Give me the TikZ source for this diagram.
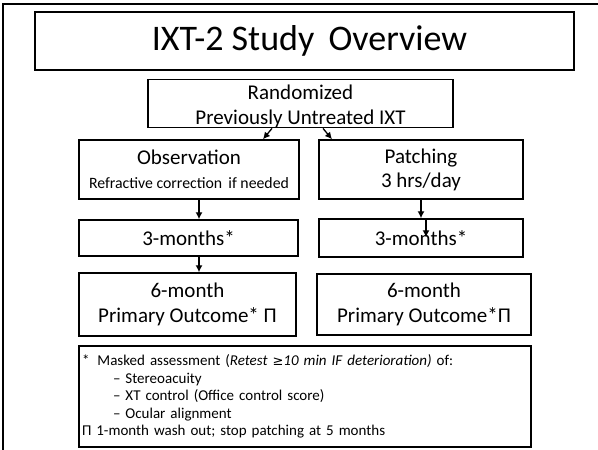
\documentclass[tikz,border=0pt]{standalone}
\usepackage{fontspec}
\setmainfont{Carlito}
\newfontfamily\symfont{DejaVu Sans}
\usetikzlibrary{arrows,arrows.meta,positioning}

\tikzset{
  box/.style={draw,line width=1.4pt,inner sep=0pt,align=center},
  arr/.style={-{Latex[length=7pt,width=7pt]},line width=1.3pt}
}

\begin{document}
\begin{tikzpicture}[x=1pt,y=-1pt]
\useasboundingbox (0,0) rectangle (598,450);
\draw[line width=1.6pt] (3,450) -- (3,4) -- (598,4);

\node[box,line width=2.2pt,minimum width=539pt,minimum height=58pt,font=\fontsize{36}{40}\selectfont] (title) at (304.5,41) {\hspace*{10pt}IXT-2 Study\, Overview};
\node[box,minimum width=305pt,minimum height=47pt,font=\fontsize{21}{25}\selectfont] (rand) at (300.5,103.5) {\rule{0pt}{20pt}Randomized\\Previously Untreated IXT};

\node[box,minimum width=220pt,minimum height=59pt,font=\fontsize{16}{24}\selectfont] (obs) at (189,169.5) {{\fontsize{21}{24}\selectfont Observation}\\{\fontsize{15.8}{24}\selectfont Refractive correction\, if needed}};
\node[box,minimum width=204pt,minimum height=59pt,font=\fontsize{21}{24}\selectfont] (pat) at (421,169.5) {Patching\\3 hrs/day};

\node[box,minimum width=219pt,minimum height=36pt,font=\fontsize{21}{24}\selectfont] (mtl) at (188.5,238) {3-months*};
\node[box,minimum width=204pt,minimum height=38pt,font=\fontsize{21}{24}\selectfont] (mtr) at (421,238) {3-months*};

\node[box,minimum width=217pt,minimum height=63pt,font=\fontsize{21}{25}\selectfont] (msl) at (187.5,304.5) {6-month\\Primary Outcome* Π};
\node[box,minimum width=214pt,minimum height=61pt,font=\fontsize{21}{25}\selectfont] (msr) at (424,304.5) {6-month\\Primary Outcome*Π};

\node[box,minimum width=452pt,minimum height=101pt,text width=446pt,align=left,font=\fontsize{15}{17.6}\selectfont] (note) at (305,396.5) {%
*\hspace{3pt} Masked assessment (\textit{Retest {\symfont\fontsize{13}{13}\selectfont ≥}10 min IF deterioration)} of:\\
\hspace*{31pt}– Stereoacuity\\
\hspace*{31pt}– XT control (Office control score)\\
\hspace*{31pt}– Ocular alignment\\
Π 1-month wash out; stop patching at 5 months};

\draw[arr] ([xshift=-28.5pt]rand.south) -- ([xshift=74pt]obs.north);
\draw[arr] ([xshift=22.5pt]rand.south) -- ([xshift=-89pt]pat.north);
\draw[arr] ([xshift=10pt]obs.south) -- ([xshift=10.5pt]mtl.north);
\draw[arr] ([xshift=10.5pt]mtl.south) -- ([xshift=11.5pt]msl.north);
\draw[arr] (pat.south) -- (mtr.north);
\draw[arr] ([xshift=5pt]mtr.north) -- ++(0,19);
\end{tikzpicture}
\end{document}
